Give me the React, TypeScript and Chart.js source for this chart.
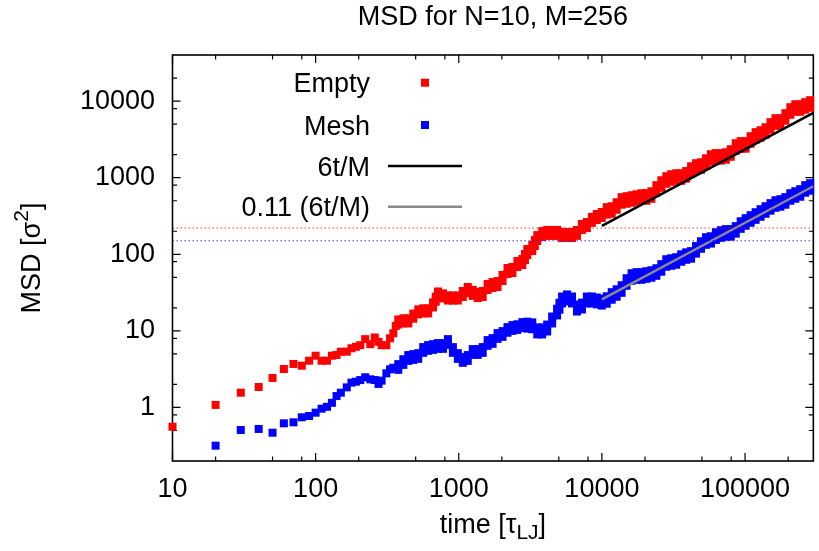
import React, { useEffect, useRef } from 'react';
import { Chart, registerables } from 'chart.js';

Chart.register(...registerables);

const FONT = "'Liberation Sans', Arial, Helvetica, sans-serif";
const FS = 27;

const chartTitle = 'MSD for N=10, M=256';
const legendLabels = ['Empty', 'Mesh', '6t/M', '0.11 (6t/M)'];

const xRange = [10, 300000];
const yRange = [0.2, 40000];
const xMajorTicks = [10, 100, 1000, 10000, 100000];
const xTickLabels = ['10', '100', '1000', '10000', '100000'];
const yMajorTicks = [0.1, 1, 10, 100, 1000, 10000];
const yTickLabels = ['0.1', '1', '10', '100', '1000', '10000'];
const minorMultipliers = [2, 5, 8];

// Empty system, early separate points: [time, MSD]
const emptySparse: [number, number][] = [
  [10, 0.56], [20, 1.08], [30, 1.56], [40, 1.85], [50, 2.43], [60, 3.18], [70, 3.7], [80, 3.51],
  [90, 4.08], [100, 4.74], [110, 4.08], [120, 4.08], [130, 4.74], [140, 4.84], [150, 5.35],
  [165, 5.35], [178, 5.93], [191, 6.2], [205, 6.5], [222, 7.8], [241, 6.7], [259, 8.2],
  [275, 7.2], [289, 6.5], [312, 6.5], [331, 8.0], [349, 9.3], [363, 11.6],
];

// Empty system, dense band: [time, lower edge MSD, upper edge MSD]
const emptyDense: [number, number, number][] = [
  [378, 12.1, 14.1], [410, 12.5, 14.6], [444, 12.5, 14.6], [481, 14.4, 16.8], [521, 16.4, 19.1],
  [564, 16.9, 19.7], [611, 16.9, 19.7], [661, 20.2, 23.5], [690, 24, 28], [716, 28, 32.7],
  [776, 26.5, 30.9], [840, 24.9, 29], [910, 24.9, 29], [985, 24.9, 29], [1067, 27.7, 33.2],
  [1156, 31.2, 37.4], [1252, 28.6, 34.3], [1356, 26.8, 32.2], [1469, 27.7, 33.2], [1591, 34.2, 41],
  [1723, 36.3, 43.5], [1866, 37.4, 44.8], [2022, 44.8, 53.8], [2190, 55.3, 66.2], [2371, 57, 68.3],
  [2568, 68.2, 81.8], [2782, 72.5, 86.9], [2900, 84, 101], [3013, 97.7, 117], [3263, 110, 132],
  [3400, 128, 153], [3535, 149, 178], [3828, 168, 201], [4147, 174, 208], [4492, 174, 208],
  [4864, 174, 208], [5269, 163, 196], [5707, 163, 196], [6180, 163, 196], [6695, 174, 208],
  [7251, 207, 249], [7853, 220, 264], [8507, 257, 308], [9214, 280, 336], [9977, 298, 357],
  [10810, 329, 412], [11710, 338, 424], [12680, 381, 478], [13730, 444, 557], [14870, 457, 573],
  [16110, 471, 590], [17450, 485, 608], [18900, 500, 627], [20470, 500, 627], [22170, 530, 665],
  [24020, 637, 799], [26000, 739, 927], [28170, 834, 1046], [30510, 885, 1110], [33040, 911, 1142],
  [35790, 911, 1142], [38770, 973, 1221], [41980, 1125, 1411], [45470, 1232, 1546],
  [49250, 1268, 1590], [53330, 1429, 1792], [57770, 1616, 2027], [62570, 1670, 2094],
  [67760, 1670, 2094], [73400, 1714, 2150], [79500, 1875, 2352], [86100, 2250, 2822],
  [93260, 2393, 3002], [101000, 2393, 3002], [109400, 2777, 3483], [118500, 3134, 3931],
  [128300, 3321, 4166], [139000, 3634, 4558], [150600, 4232, 5309], [163100, 4768, 5981],
  [176600, 4768, 5981], [191300, 5545, 6955], [207200, 6634, 8322], [224400, 7259, 9106],
  [243000, 7259, 9106], [263300, 7723, 9688], [285100, 8196, 10282],
];

// Mesh system, early separate points: [time, MSD]
const meshSparse: [number, number][] = [
  [20, 0.317], [30, 0.508], [40, 0.524], [50, 0.468], [60, 0.621], [70, 0.64], [80, 0.744],
  [90, 0.774], [100, 0.855], [110, 0.964], [120, 1.02], [130, 1.15], [140, 1.41], [150, 1.56],
  [165, 1.83], [178, 2.11], [191, 2.17], [205, 2.28], [222, 2.48], [241, 2.33], [259, 2.28],
  [275, 2.03], [289, 2.24], [312, 2.79], [331, 3.15], [349, 3.3],
];

// Mesh system, dense band: [time, lower edge MSD, upper edge MSD]
const meshDense: [number, number, number][] = [
  [378, 3.1, 3.68], [410, 3.6, 4.27], [444, 4.06, 4.83], [481, 4.18, 4.97], [521, 4.31, 5.12],
  [564, 5.17, 6.14], [611, 5.49, 6.52], [661, 5.65, 6.71], [716, 5.83, 6.92], [776, 5.83, 6.92],
  [840, 6.57, 7.8], [910, 5.17, 6.14], [985, 4.31, 5.12], [1067, 3.83, 4.55], [1156, 4.06, 4.83],
  [1252, 4.86, 5.78], [1356, 4.86, 5.78], [1469, 5.17, 6.14], [1591, 6.38, 7.58], [1723, 6.77, 8.04],
  [1866, 7.87, 9.35], [2022, 8.36, 9.93], [2190, 9.45, 11.2], [2371, 10, 11.9], [2568, 10.3, 12.2],
  [2782, 10.9, 13], [3013, 10.7, 13.2], [3263, 10.5, 12.9], [3535, 8.98, 11.1], [3828, 8.98, 11.1],
  [4147, 9.82, 12.1], [4492, 12.5, 15.4], [4864, 15.9, 19.5], [5050, 18.9, 23.3], [5269, 22.8, 28.1],
  [5707, 24.2, 29.9], [6180, 22.8, 28.1], [6695, 17.9, 22.1], [7251, 19, 23.4], [7853, 22.8, 28.1],
  [8507, 22.8, 28.1], [9214, 22.2, 27.3], [9977, 21.4, 26.4], [10810, 22.6, 28.3],
  [11710, 25.5, 32], [12680, 27.9, 34.9], [13730, 31.4, 39.4], [14870, 38.8, 48.7],
  [16110, 45.1, 56.6], [17450, 46.5, 58.4], [18900, 46.5, 58.4], [20470, 47.9, 60.1],
  [22170, 49.4, 61.9], [24020, 52.4, 65.7], [26000, 59.2, 74.3], [28170, 68.8, 86.2],
  [30510, 70.8, 88.8], [33040, 73, 91.6], [35790, 79.9, 100], [38770, 84.8, 106],
  [41980, 87.5, 110], [45470, 102, 128], [49250, 118, 148], [53330, 133, 167], [57770, 138, 172],
  [62570, 154, 194], [67760, 164, 206], [73400, 170, 213], [79500, 170, 213], [86100, 186, 233],
  [93260, 215, 270], [101000, 236, 296], [109400, 258, 324], [118500, 282, 354],
  [128300, 309, 388], [139000, 338, 424], [150600, 371, 465], [163100, 405, 508],
  [176600, 418, 524], [191300, 444, 557], [207200, 500, 627], [224400, 531, 666],
  [243000, 564, 708], [263300, 637, 799], [285100, 676, 848],
];

// fit lines: 6t/M and 0.11 (6t/M), M = 256
const fitTime = [10000, 300000];
const fitMSD = [234.4, 7031];
const fitScaledMSD = [25.8, 773];

// horizontal reference levels
const emptyLevel = 220;
const meshLevel = 150;

type TickItem = { value: number };

function buildTickList(majors: number[], lo: number, hi: number): TickItem[] {
  const out: TickItem[] = [];
  majors.forEach((m) => {
    if (m >= lo && m <= hi) out.push({ value: m });
    minorMultipliers.forEach((k) => {
      const v = m * k;
      if (v > lo && v < hi) out.push({ value: v });
    });
  });
  return out.sort((a, b) => a.value - b.value);
}

function toPoints(sparse: [number, number][], dense: [number, number, number][]) {
  const pts = sparse.map(([x, y]) => ({ x, y }));
  dense.forEach(([x, lo, hi]) => {
    pts.push({ x, y: lo });
    pts.push({ x, y: hi });
  });
  return pts;
}

type Part = { text: string; size: number; dy?: number };

function drawRich(ctx: CanvasRenderingContext2D, parts: Part[], cx: number, baseline: number) {
  let w = 0;
  parts.forEach((p) => {
    ctx.font = `${p.size}px ${FONT}`;
    w += ctx.measureText(p.text).width;
  });
  let x = cx - w / 2;
  ctx.textAlign = 'left';
  ctx.textBaseline = 'alphabetic';
  parts.forEach((p) => {
    ctx.font = `${p.size}px ${FONT}`;
    ctx.fillText(p.text, x, baseline + (p.dy || 0));
    x += ctx.measureText(p.text).width;
  });
}

const frameAndTicks = {
  id: 'frameAndTicks',
  beforeDatasetsDraw(chart: any) {
    const { ctx, chartArea: a } = chart;
    const xs = chart.scales.x;
    const ys = chart.scales.y;
    ctx.save();
    ctx.strokeStyle = '#000';
    ctx.lineWidth = 1.2;
    ctx.beginPath();
    xs.ticks.forEach((t: TickItem) => {
      const p = xs.getPixelForValue(t.value);
      const len = xMajorTicks.includes(t.value) ? 8 : 4.5;
      ctx.moveTo(p, a.bottom);
      ctx.lineTo(p, a.bottom - len);
      ctx.moveTo(p, a.top);
      ctx.lineTo(p, a.top + len);
    });
    ys.ticks.forEach((t: TickItem) => {
      const p = ys.getPixelForValue(t.value);
      const len = yMajorTicks.includes(t.value) ? 8 : 4.5;
      ctx.moveTo(a.left, p);
      ctx.lineTo(a.left + len, p);
      ctx.moveTo(a.right, p);
      ctx.lineTo(a.right - len, p);
    });
    ctx.stroke();
    ctx.lineWidth = 1.6;
    ctx.strokeRect(a.left, a.top, a.right - a.left, a.bottom - a.top);
    ctx.restore();
  },
};

const textAndLegend = {
  id: 'textAndLegend',
  afterDraw(chart: any) {
    const { ctx, chartArea: a } = chart;
    const cx = (a.left + a.right) / 2;
    const cy = (a.top + a.bottom) / 2;
    ctx.save();
    ctx.fillStyle = '#000';
    drawRich(ctx, [{ text: chartTitle, size: FS }], cx, 24.5);
    drawRich(ctx, [
      { text: 'time [\u03C4', size: FS },
      { text: 'LJ', size: 21, dy: 6 },
      { text: ']', size: FS },
    ], cx, 533);
    ctx.save();
    ctx.translate(39.5, cy);
    ctx.rotate(-Math.PI / 2);
    drawRich(ctx, [
      { text: 'MSD [\u03C3', size: FS },
      { text: '2', size: 21, dy: -12 },
      { text: ']', size: FS },
    ], 0, 0);
    ctx.restore();

    // legend
    const rows = [82.7, 125, 166, 206.7];
    const textRight = 370;
    chart.data.datasets.slice(0, 4).forEach((ds: any, i: number) => {
      const y = rows[i];
      ctx.font = `${FS}px ${FONT}`;
      ctx.textAlign = 'right';
      ctx.textBaseline = 'alphabetic';
      ctx.fillStyle = '#000';
      ctx.fillText(ds.label, textRight, y + 9.6);
      if (i < 2) {
        ctx.fillStyle = ds.pointBackgroundColor;
        ctx.fillRect(425 - 4, y - 4, 8, 8);
      } else {
        ctx.strokeStyle = ds.borderColor;
        ctx.lineWidth = ds.borderWidth;
        ctx.beginPath();
        ctx.moveTo(388, y);
        ctx.lineTo(462, y);
        ctx.stroke();
      }
    });
    ctx.restore();
  },
};

function makeAxis(majors: number[], labels: string[], range: number[], isX: boolean) {
  return {
    type: 'logarithmic' as const,
    position: isX ? ('bottom' as const) : ('left' as const),
    min: range[0],
    max: range[1],
    bounds: 'data' as const,
    grid: { display: false, drawTicks: false, tickLength: 0 },
    border: { display: false },
    ticks: {
      autoSkip: false,
      maxRotation: 0,
      minRotation: 0,
      padding: isX ? 12.5 : 17.5,
      color: '#000',
      font: { family: FONT, size: FS },
      callback: (v: any) => {
        const i = majors.indexOf(Number(v));
        return i >= 0 ? labels[i] : '';
      },
    },
    afterBuildTicks: (scale: any) => {
      scale.ticks = buildTickList(majors, range[0], range[1]);
    },
    afterFit: (scale: any) => {
      if (isX) scale.height = 90;
      else scale.width = 172.5;
    },
  };
}

export default function App() {
  const ref = useRef<HTMLCanvasElement>(null);

  useEffect(() => {
    if (!ref.current) return;
    const pointStyleOpts = {
      pointStyle: 'rect',
      pointRadius: 5.66,
      pointHoverRadius: 5.66,
      pointBorderWidth: 0,
      showLine: false,
      clip: false,
    };
    const chart = new Chart(ref.current, {
      type: 'scatter',
      data: {
        datasets: [
          {
            label: legendLabels[0],
            data: toPoints(emptySparse, emptyDense),
            ...pointStyleOpts,
            pointBackgroundColor: '#ff0000',
            backgroundColor: '#ff0000',
            borderColor: '#ff0000',
            order: 6,
          } as any,
          {
            label: legendLabels[1],
            data: toPoints(meshSparse, meshDense),
            ...pointStyleOpts,
            pointBackgroundColor: '#0000ff',
            backgroundColor: '#0000ff',
            borderColor: '#0000ff',
            order: 5,
          } as any,
          {
            label: legendLabels[2],
            data: fitTime.map((x, i) => ({ x, y: fitMSD[i] })),
            showLine: true,
            borderColor: '#000000',
            borderWidth: 2.5,
            pointRadius: 0,
            order: 4,
          } as any,
          {
            label: legendLabels[3],
            data: fitTime.map((x, i) => ({ x, y: fitScaledMSD[i] })),
            showLine: true,
            borderColor: '#8a8a8a',
            borderWidth: 2.5,
            pointRadius: 0,
            order: 3,
          } as any,
          {
            label: 'Empty level',
            data: xRange.map((x) => ({ x, y: emptyLevel })),
            showLine: true,
            borderColor: 'rgba(255,0,0,0.8)',
            borderWidth: 1,
            borderDash: [1.5, 2.5],
            pointRadius: 0,
            order: 2,
          } as any,
          {
            label: 'Mesh level',
            data: xRange.map((x) => ({ x, y: meshLevel })),
            showLine: true,
            borderColor: 'rgba(0,0,255,0.8)',
            borderWidth: 1,
            borderDash: [1.5, 2.5],
            pointRadius: 0,
            order: 1,
          } as any,
        ],
      },
      options: {
        animation: false,
        responsive: false,
        devicePixelRatio: 1,
        layout: { padding: { top: 55, right: 1, left: 0, bottom: 0 } },
        plugins: {
          legend: { display: false },
          title: { display: false },
          tooltip: { enabled: false },
        },
        events: [],
        scales: {
          x: makeAxis(xMajorTicks, xTickLabels, xRange, true) as any,
          y: makeAxis(yMajorTicks, yTickLabels, yRange, false) as any,
        },
      },
      plugins: [frameAndTicks, textAndLegend],
    });
    return () => chart.destroy();
  }, []);

  return (
    <div style={{ position: 'fixed', left: 0, top: 0, width: 819, height: 551, background: '#fff' }}>
      <canvas ref={ref} width={819} height={551} style={{ display: 'block' }} />
    </div>
  );
}
